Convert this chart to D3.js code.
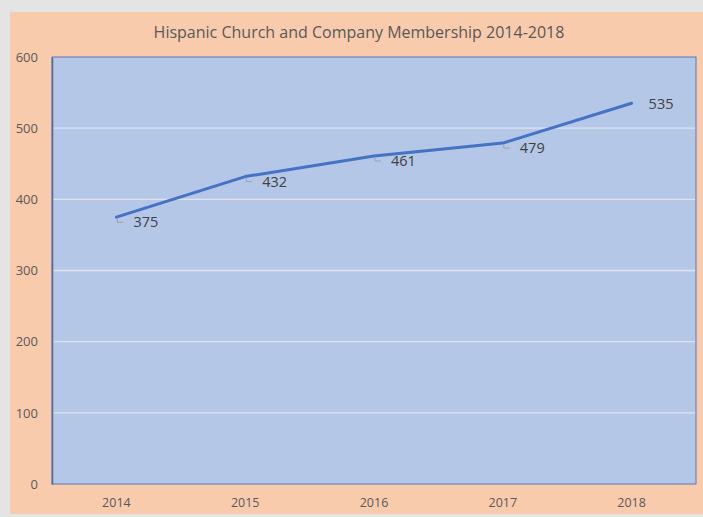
<!DOCTYPE html>
<html>
<head>
<meta charset="utf-8">
<script src="https://cdn.jsdelivr.net/npm/d3@7"></script>
<style>
  body { margin: 0; background: #ffffff; }
  svg text { font-family: "Open Sans", "Liberation Sans", sans-serif; }
</style>
</head>
<body>
<svg id="chart" width="703" height="517"></svg>
<script>
var years = ["2014", "2015", "2016", "2017", "2018"];
var members = [375, 432, 461, 479, 535];
var yTicks = [0, 100, 200, 300, 400, 500, 600];
var chartTitle = "Hispanic Church and Company Membership 2014-2018";

var svg = d3.select("#chart");
var W = 703, H = 517;
var plot = { left: 52, top: 57, right: 696, bottom: 484 };

// outer frame
svg.append("rect").attr("x", 0).attr("y", 0).attr("width", W).attr("height", H).attr("fill", "#e4e4e4");
svg.append("rect").attr("x", 10).attr("y", 12).attr("width", W - 10).attr("height", 502).attr("fill", "#f8cbad");

svg.append("text")
	.attr("x", 359).attr("y", 38)
	.attr("text-anchor", "middle")
	.attr("font-size", 16)
	.attr("fill", "#595959")
	.text(chartTitle);

var x = d3.scaleBand().domain(years).range([plot.left, plot.right]);
var y = d3.scaleLinear().domain([0, 600]).range([plot.bottom, plot.top]);

svg.append("rect")
	.attr("x", plot.left).attr("y", plot.top)
	.attr("width", plot.right - plot.left).attr("height", plot.bottom - plot.top)
	.attr("fill", "#b4c7e7")
	.attr("stroke", "#5b7bb0").attr("stroke-width", 1);

// gridlines
svg.append("g").selectAll("line").data(yTicks.filter(function(d){ return d > 0 && d < 600; }))
	.enter().append("line")
	.attr("x1", plot.left + 1).attr("x2", plot.right - 1)
	.attr("y1", function(d){ return y(d); }).attr("y2", function(d){ return y(d); })
	.attr("stroke", "#dde3ee").attr("stroke-width", 1.3);

// y axis labels
var yAxis = d3.axisLeft(y).tickValues(yTicks).tickSize(0).tickPadding(12);
var ya = svg.append("g").attr("transform", "translate(" + plot.left + ",0)").call(yAxis);
ya.select(".domain").attr("stroke", "#4a6aa5").attr("stroke-width", 1.5);
ya.selectAll("text").attr("font-size", 13).attr("fill", "#595959")
	.attr("font-family", "\"Open Sans\", \"Liberation Sans\", sans-serif")
	.attr("text-anchor", "end").attr("x", -14);

// x axis labels
var xAxis = d3.axisBottom(x).tickSize(0).tickPadding(14);
var xa = svg.append("g").attr("transform", "translate(0," + plot.bottom + ")").call(xAxis);
xa.select(".domain").remove();
xa.selectAll("text").attr("font-size", 12.5).attr("fill", "#595959")
	.attr("font-family", "\"Open Sans\", \"Liberation Sans\", sans-serif");

var data = years.map(function(yr, i){ return { year: yr, value: members[i] }; });
function px(d){ return x(d.year) + x.bandwidth() / 2; }

svg.append("path").datum(data)
	.attr("fill", "none")
	.attr("stroke", "#4472c4").attr("stroke-width", 3)
	.attr("stroke-linejoin", "round").attr("stroke-linecap", "round")
	.attr("d", d3.line().x(px).y(function(d){ return y(d.value); }));

// little leader marks
var leaders = svg.append("g");
leaders.selectAll("path").data(data.slice(0, 4)).enter().append("path")
	.attr("fill", "none").attr("stroke", "#9aa3ad").attr("stroke-width", 1)
	.attr("d", function(d){
		var cx = px(d), cy = y(d.value);
		return "M" + (cx + 1) + "," + (cy + 1) + "V" + (cy + 5) + "H" + (cx + 7);
	});

svg.append("g").selectAll("text").data(data).enter().append("text")
	.attr("x", function(d){ return px(d) + 17; })
	.attr("y", function(d, i){ return y(d.value) + (i == 4 ? 6 : 10); })
	.attr("font-size", 14.5).attr("fill", "#404040")
	.text(function(d){ return d.value; });
</script>
</body>
</html>
